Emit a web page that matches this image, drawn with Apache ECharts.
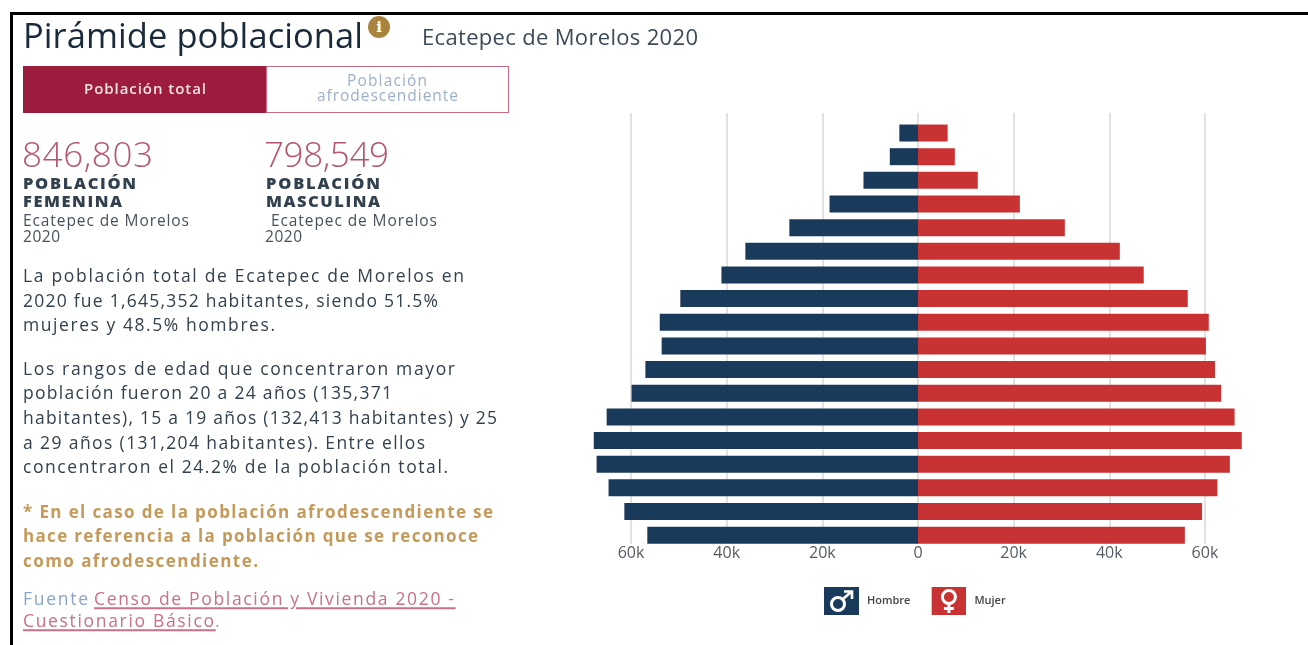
<!DOCTYPE html>
<html lang="es"><head><meta charset="utf-8">
<style>
html,body{margin:0;padding:0;width:1308px;height:645px;background:#fff;overflow:hidden;font-family:"Open Sans","Noto Sans",sans-serif}
#chart{position:absolute;left:0;top:0;width:1308px;height:645px}
.t{position:absolute;white-space:pre;transform:translateY(-50%);line-height:1}
.b{position:absolute;background:#000}
#tab1,#tab2{position:absolute;top:66px;width:243px;height:47px;box-sizing:border-box}
#tab1{left:23px;background:#9b1c3d}
#tab2{left:266px;background:#fff;border:1.5px solid #c96b84}
#info{position:absolute;left:368px;top:16px;width:22px;height:22px;border-radius:50%;background:#a9843f;color:#fff;font:bold 15px/22px "DejaVu Serif",serif;text-align:center}
u{text-decoration-thickness:1.5px;text-underline-offset:2px}
</style></head><body>
<div class="b" style="left:10px;top:12px;width:1298px;height:3px"></div>
<div class="b" style="left:10px;top:12px;width:3px;height:633px"></div>
<div id="tab1"></div><div id="tab2"></div><div id="info">i</div>
<div id="chart"></div>
<div id="text"></div>
<script src="https://cdn.jsdelivr.net/npm/echarts@6/dist/echarts.min.js"></script>
<script>
// Age groups bottom to top
const ageGroups = ['0-4','5-9','10-14','15-19','20-24','25-29','30-34','35-39','40-44','45-49','50-54','55-59','60-64','65-69','70-74','75-79','80-84','85+'];
const hombre = [56600,61400,64700,67200,67800,65100,59900,57000,53600,54000,49700,41100,36100,26900,18500,11400,5900,3900];
const mujer  = [55800,59400,62600,65200,67700,66200,63400,62100,60200,60800,56400,47200,42200,30700,21300,12500,7700,6200];
const tickStep = 20000;
const colorHombre = '#1a3a5c', colorMujer = '#c93232';

const svgIcon = (bg, inner) => 'image://data:image/svg+xml;utf8,' + encodeURIComponent(
  `<svg xmlns="http://www.w3.org/2000/svg" width="35" height="28" viewBox="0 0 35 28"><rect width="35" height="28" fill="${bg}"/>${inner}</svg>`);
const marsIcon = svgIcon(colorHombre, '<circle cx="14" cy="17" r="6.5" fill="none" stroke="#fff" stroke-width="3"/><path d="M19 12 L27 5 M20 4.5 H28 V12" fill="none" stroke="#fff" stroke-width="2.6"/>');
const venusIcon = svgIcon(colorMujer, '<circle cx="17.5" cy="10" r="6.5" fill="none" stroke="#fff" stroke-width="3"/><path d="M17.5 16 V26 M12.5 21.5 H22.5" fill="none" stroke="#fff" stroke-width="3"/>');

const chart = echarts.init(document.getElementById('chart'));
const scale = {min: -80000, max: 80000, interval: tickStep};
chart.setOption({
  animation: false,
  grid: [
    {left: 535.4, width: 765.2, top: 113, height: 431},
    {left: 535.4, width: 765.2, top: 121.2, height: 425.8}
  ],
  xAxis: [
    {gridIndex: 0, type: 'value', ...scale, axisLine: {show: false}, axisTick: {show: false},
     splitLine: {show: true, showMinLine: false, showMaxLine: false, lineStyle: {color: '#e2e2e2', width: 2}},
     axisLabel: {showMinLabel: false, showMaxLabel: false, margin: 1, color: '#555b63', fontSize: 16, fontFamily: 'Open Sans',
       formatter: v => v === 0 ? '0' : Math.abs(v) / 1000 + 'k'}},
    {gridIndex: 1, type: 'value', ...scale, show: false, splitLine: {show: false}}
  ],
  yAxis: [
    {gridIndex: 0, type: 'category', data: ageGroups, show: false},
    {gridIndex: 1, type: 'category', data: ageGroups, show: false}
  ],
  legend: {
    left: 819, top: 582, itemWidth: 35, itemHeight: 28, itemGap: 21, selectedMode: false,
    textStyle: {fontFamily: 'Open Sans', fontSize: 11, fontWeight: 600, color: '#444', padding: [0, 0, 0, 3]},
    data: [{name: 'Hombre', icon: marsIcon}, {name: 'Mujer', icon: venusIcon}]
  },
  series: [
    {name: 'Hombre', type: 'bar', xAxisIndex: 1, yAxisIndex: 1, stack: 'p', barWidth: 17,
     itemStyle: {color: colorHombre}, data: hombre.map(v => -v)},
    {name: 'Mujer', type: 'bar', xAxisIndex: 1, yAxisIndex: 1, stack: 'p', barWidth: 17,
     itemStyle: {color: colorMujer}, data: mujer}
  ]
});

// [text, left, right, centreY, size, weight, colour]
const dark = '#33414f', mid = '#47525e', gold = '#c49a5a', rose = '#b5566e', link = '#c9708a';
const lines = [
  ['Pirámide poblacional',23,363,35,34.5,400,'#1a2a3a'],
  ['Ecatepec de Morelos 2020',422,698,36,22,400,'#3c4a57'],
  ['Población total',84,206,88,15,600,'#f6e3e3'],
  ['Población',347,427,81,15.5,400,'#9db0c8'],
  ['afrodescendiente',317,458,96,15.5,400,'#9db0c8'],
  ['846,803',22,153,153,35,300,rose],
  ['798,549',264,389,153,35,300,rose],
  ['POBLACIÓN',23,136,183,16.5,800,dark],
  ['FEMENINA',23,122,201,16.5,800,dark],
  ['POBLACIÓN',266,380,183,16.5,800,dark],
  ['MASCULINA',266,380,201,16.5,800,dark],
  ['Ecatepec de Morelos',23,189,221,15.5,400,mid],
  ['2020',23,60,237,15.5,400,mid],
  ['Ecatepec de Morelos',271,437,221,15.5,400,mid],
  ['2020',265,302,237,15.5,400,mid],
  ['La población total de Ecatepec de Morelos en',23,464,276,17.5,400,dark],
  ['2020 fue 1,645,352 habitantes, siendo 51.5%',23,438,301,17.5,400,dark],
  ['mujeres y 48.5% hombres.',23,275,325,17.5,400,dark],
  ['Los rangos de edad que concentraron mayor',23,455,369,17.5,400,dark],
  ['población fueron 20 a 24 años (135,371',23,392,393,17.5,400,dark],
  ['habitantes), 15 a 19 años (132,413 habitantes) y 25',23,497,418,17.5,400,dark],
  ['a 29 años (131,204 habitantes). Entre ellos',23,425,443,17.5,400,dark],
  ['concentraron el 24.2% de la población total.',23,448,467,17.5,400,dark],
  ['* En el caso de la población afrodescendiente se',23,493,511,17,700,gold],
  ['hace referencia a la población que se reconoce',23,478,535,17,700,gold],
  ['como afrodescendiente.',23,258,560,17,700,gold],
  ['Fuente',23,88,599,17.5,400,'#8ba5c7'],
  ['<u>Censo de Población y Vivienda 2020 -</u>',94,454,599,17.5,400,link],
  ['<u>Cuestionario Básico</u>',23,214,621,17.5,400,link],
  ['.',215,219,621,17.5,400,'#8ba5c7']
];
const host = document.getElementById('text');
lines.forEach(([txt, l, r, y, size, w, c]) => {
  const s = document.createElement('span');
  s.className = 't';
  s.innerHTML = txt;
  s.style.cssText = `left:${l}px;top:${y}px;font-size:${size}px;font-weight:${w};color:${c}`;
  host.appendChild(s);
  const n = s.textContent.length;
  if (n > 1) s.style.letterSpacing = ((r - l - s.getBoundingClientRect().width) / (n - 1)) + 'px';
});
</script>
</body></html>
